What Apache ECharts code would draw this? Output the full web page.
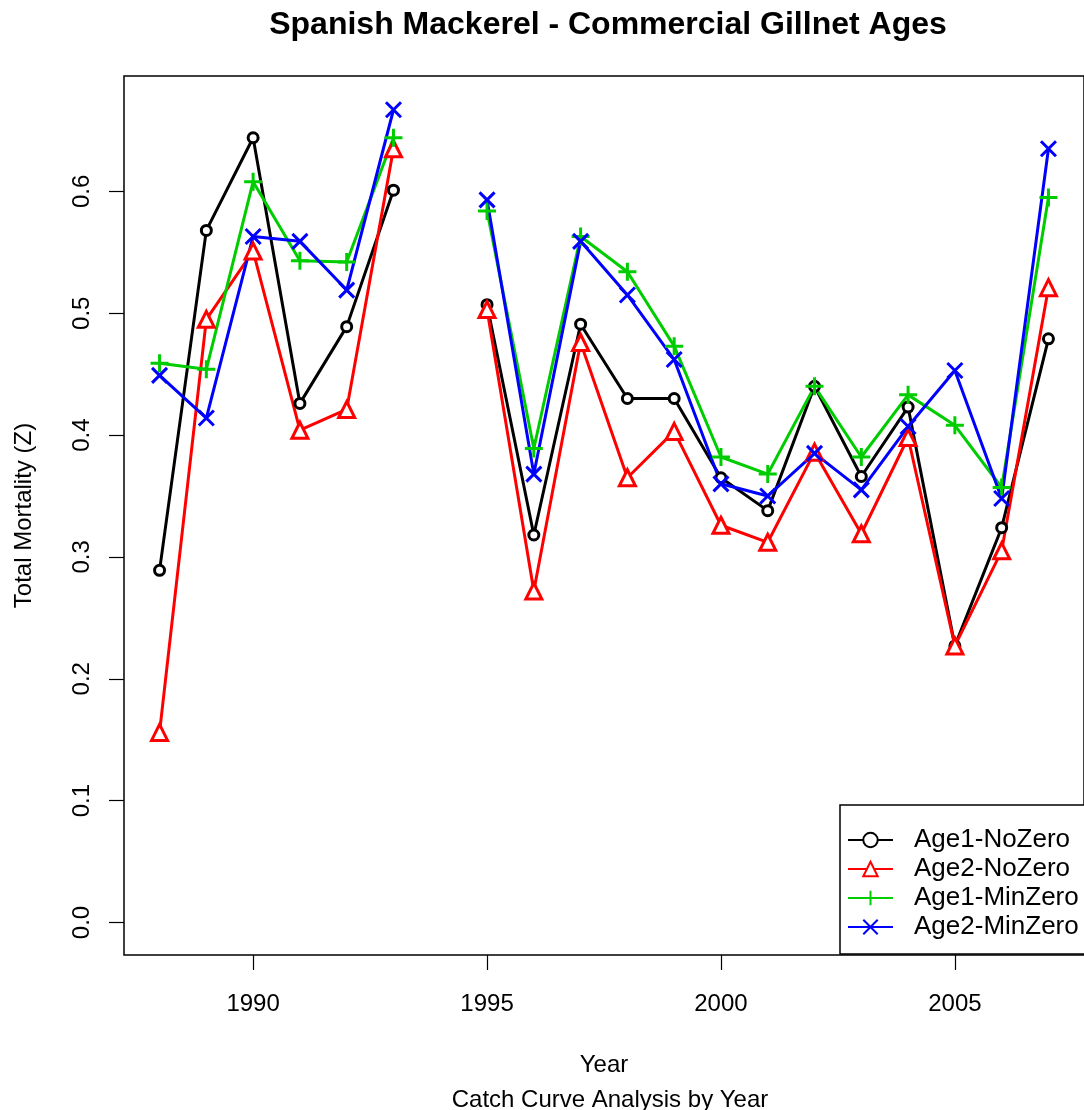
<!DOCTYPE html>
<html>
<head>
<meta charset="utf-8">
<script src="https://cdn.jsdelivr.net/npm/echarts@6/dist/echarts.min.js"></script>
<style>
  html, body { margin: 0; padding: 0; background: #fff; }
  #chart { width: 1084px; height: 1110px; }
</style>
</head>
<body>
<div id="chart"></div>
<script>
const years = [1988, 1989, 1990, 1991, 1992, 1993, 1994, 1995, 1996, 1997, 1998, 1999, 2000, 2001, 2002, 2003, 2004, 2005, 2006, 2007];
const age1NoZero = [0.289, 0.568, 0.644, 0.426, 0.489, 0.601, null, 0.507, 0.318, 0.491, 0.430, 0.430, 0.365, 0.338, 0.440, 0.366, 0.423, 0.227, 0.324, 0.479];
const age2NoZero = [0.156, 0.495, 0.551, 0.404, 0.421, 0.635, null, 0.503, 0.272, 0.476, 0.365, 0.403, 0.326, 0.312, 0.386, 0.319, 0.398, 0.227, 0.305, 0.521];
const age1MinZero = [0.459, 0.454, 0.608, 0.543, 0.542, 0.644, null, 0.584, 0.389, 0.563, 0.534, 0.473, 0.382, 0.368, 0.440, 0.382, 0.433, 0.408, 0.357, 0.595];
const age2MinZero = [0.449, 0.414, 0.563, 0.559, 0.519, 0.667, null, 0.593, 0.368, 0.559, 0.515, 0.462, 0.360, 0.350, 0.385, 0.355, 0.407, 0.453, 0.348, 0.635];
const xTicks = [1990, 1995, 2000, 2005];
const yTicks = [0.0, 0.1, 0.2, 0.3, 0.4, 0.5, 0.6];

const font = "Liberation Sans";
const plus = "path://M5,0L5,10M0,5L10,5";
const cross = "path://M0,0L10,10M10,0L0,10";

function pairs(values) {
  return years.map((y, i) => [y, values[i] === null ? "-" : values[i]]);
}

function makeSeries(name, values, color, symbol, size, fill) {
  return {
    name,
    type: "line",
    data: pairs(values),
    connectNulls: false,
    symbol,
    symbolSize: size,
    showAllSymbol: true,
    lineStyle: { color, width: 3 },
    itemStyle: { color: fill, borderColor: color, borderWidth: 3 },
    emphasis: { disabled: true },
    z: 3,
  };
}

const chart = echarts.init(document.getElementById("chart"), null, { renderer: "canvas" });
chart.setOption({
  animation: false,
  textStyle: { fontFamily: font, color: "#000" },
  title: [
    {
      text: "Spanish Mackerel - Commercial Gillnet Ages",
      left: 603,
      top: 4,
      textAlign: "center",
      textStyle: { fontFamily: font, fontSize: 32, fontWeight: "bold", color: "#000" },
    },
    {
      text: "Catch Curve Analysis by Year",
      left: 605,
      top: 1083,
      textAlign: "center",
      textStyle: { fontFamily: font, fontSize: 24, fontWeight: "normal", color: "#000" },
    },
  ],
  legend: {
    orient: "vertical",
    left: 840,
    top: 805,
    padding: [22, 40, 14, 7],
    itemGap: 3,
    itemWidth: 45,
    itemHeight: 18,
    borderColor: "#000",
    borderWidth: 1.5,
    backgroundColor: "#fff",
    textStyle: { fontFamily: font, fontSize: 26, color: "#000", padding: [0, 0, 0, 16] },
    data: ["Age1-NoZero", "Age2-NoZero", "Age1-MinZero", "Age2-MinZero"],
  },
  grid: {
    left: 124,
    top: 76,
    width: 966,
    height: 879,
    show: true,
    borderColor: "#000",
    borderWidth: 1.5,
    backgroundColor: "transparent",
  },
  xAxis: {
    type: "value",
    min: 1987.24,
    max: 2007.76,
    name: "Year",
    nameLocation: "middle",
    nameGap: 98,
    nameTextStyle: { fontFamily: font, fontSize: 24, color: "#000", verticalAlign: "top" },
    axisLine: { show: false, onZero: false },
    axisTick: { show: true, length: 15, lineStyle: { color: "#000", width: 1.2 }, customValues: xTicks },
    axisLabel: { fontFamily: font, fontSize: 24, color: "#000", margin: 37, customValues: xTicks, formatter: (v) => String(v) },
    splitLine: { show: false },
  },
  yAxis: {
    type: "value",
    min: -0.0267,
    max: 0.6947,
    name: "Total Mortality (Z)",
    nameLocation: "middle",
    nameGap: 88,
    nameRotate: 90,
    nameTextStyle: { fontFamily: font, fontSize: 24, color: "#000" },
    axisLine: { show: false, onZero: false },
    axisTick: { show: true, length: 15, lineStyle: { color: "#000", width: 1.2 }, customValues: yTicks },
    axisLabel: { fontFamily: font, fontSize: 24, color: "#000", margin: 30, rotate: 90, customValues: yTicks, formatter: (v) => v.toFixed(1) },
    splitLine: { show: false },
  },
  series: [
    makeSeries("Age1-NoZero", age1NoZero, "#000000", "circle", 10, "#fff"),
    makeSeries("Age2-NoZero", age2NoZero, "#ff0000", "triangle", 16, "#fff"),
    makeSeries("Age1-MinZero", age1MinZero, "#00cd00", plus, 18, "none"),
    makeSeries("Age2-MinZero", age2MinZero, "#0000ff", cross, 15, "none"),
  ],
});
</script>
</body>
</html>
